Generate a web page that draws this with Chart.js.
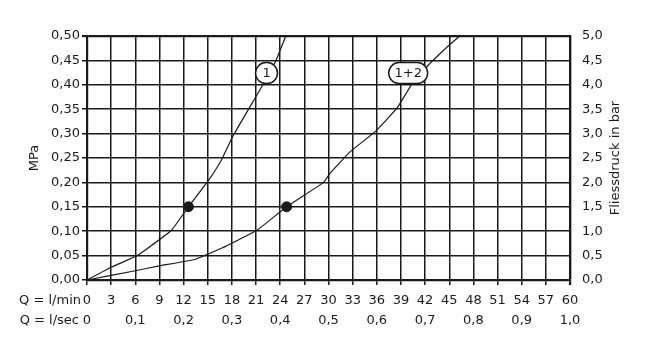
<!DOCTYPE html>
<html>
<head>
<meta charset="utf-8">
<script src="https://cdn.jsdelivr.net/npm/chart.js@4"></script>
<style>
  body { margin: 0; background: #fff; }
  canvas { display: block; }
</style>
</head>
<body>
<canvas id="chart" width="658" height="348"></canvas>
<script>
// curve 1 (l/min -> MPa)
const flowCurve1 = [0, 3.0, 6.0, 7.2, 10.5, 12.6, 15.0, 16.7, 18.1, 20.0, 21.7, 23.4, 24.7];
const pressureCurve1 = [0, 0.026, 0.048, 0.061, 0.102, 0.15, 0.202, 0.246, 0.294, 0.348, 0.396, 0.447, 0.50];

// curve 1+2
const flowCurve12 = [0, 6.0, 9.0, 13.4, 16.7, 21.1, 24.8, 29.4, 30.2, 32.7, 35.8, 38.5, 40.3, 42.2, 44.9, 46.3];
const pressureCurve12 = [0, 0.019, 0.029, 0.042, 0.065, 0.102, 0.15, 0.20, 0.219, 0.263, 0.304, 0.352, 0.40, 0.437, 0.48, 0.50];

// marked points
const markFlow = [12.6, 24.8];
const markPressure = [0.15, 0.15];

// curve labels
const curveLabels = ['1', '1+2'];
const curveLabelFlow = [22.3, 39.9];
const curveLabelPressure = [0.424, 0.424];

const ink = '#1a1a1a';
const fontFamily = '"DejaVu Sans", sans-serif';

function toPoints(xs, ys) {
    const pts = [];
    for (let i = 0; i < xs.length; i++) {
        pts.push({ x: xs[i], y: ys[i] });
    }
    return pts;
}

function comma(v, digits) {
    return v.toFixed(digits).replace('.', ',');
}

const extraText = {
    id: 'extraText',
    afterDatasetsDraw(chart) {
        const ctx = chart.ctx;
        const x = chart.scales.x;
        const y = chart.scales.y;
        ctx.save();
        ctx.strokeStyle = ink;
        ctx.lineWidth = 1.5;
        ctx.font = '13px ' + fontFamily;
        ctx.textAlign = 'center';
        ctx.textBaseline = 'middle';
        for (let i = 0; i < curveLabels.length; i++) {
            const px = x.getPixelForValue(curveLabelFlow[i]);
            const py = y.getPixelForValue(curveLabelPressure[i]);
            const w = curveLabels[i].length > 1 ? 39 : 22;
            const h = 21;
            ctx.beginPath();
            ctx.roundRect(px - w / 2, py - h / 2, w, h, h / 2);
            ctx.fillStyle = '#fff';
            ctx.fill();
            ctx.stroke();
            ctx.fillStyle = ink;
            ctx.fillText(curveLabels[i], px, py + 1);
        }
        ctx.restore();
    },
    afterDraw(chart) {
        const ctx = chart.ctx;
        const area = chart.chartArea;
        ctx.save();
        ctx.fillStyle = ink;
        ctx.font = '13px ' + fontFamily;
        ctx.textAlign = 'right';
        ctx.textBaseline = 'middle';
        ctx.fillText('Q = l/min', 81, chart.scales.x.top + 21);
        ctx.fillText('Q = l/sec', 79, chart.scales.x2.top + 10);
        // right title, reading bottom to top
        ctx.translate(616, (area.top + area.bottom) / 2);
        ctx.rotate(-Math.PI / 2);
        ctx.textAlign = 'center';
        ctx.fillText('Fliessdruck in bar', 0, 0);
        ctx.restore();
    }
};

new Chart(document.getElementById('chart'), {
    type: 'scatter',
    data: {
        datasets: [{
            type: 'line',
            data: toPoints(flowCurve1, pressureCurve1),
            borderColor: ink,
            borderWidth: 1.2,
            pointRadius: 0,
            tension: 0.1,
            fill: false
        }, {
            type: 'line',
            data: toPoints(flowCurve12, pressureCurve12),
            borderColor: ink,
            borderWidth: 1.2,
            pointRadius: 0,
            tension: 0.1,
            fill: false
        }, {
            data: toPoints(markFlow, markPressure),
            backgroundColor: ink,
            borderColor: ink,
            pointRadius: 5
        }]
    },
    options: {
        responsive: false,
        animation: false,
        layout: { padding: { top: 36, bottom: 12, left: 0, right: 0 } },
        plugins: {
            legend: { display: false },
            tooltip: { enabled: false }
        },
        scales: {
            x: {
                type: 'linear',
                position: 'bottom',
                min: 0,
                max: 60,
                afterFit: s => { s.height = 31; },
                ticks: {
                    stepSize: 3,
                    autoSkip: false,
                    maxRotation: 0,
                    padding: 8,
                    color: ink,
                    font: { family: fontFamily, size: 13 }
                },
                grid: {
                    color: ink,
                    lineWidth: c => (c.tick && c.tick.value === 60 ? 2.2 : 1.5),
                    tickLength: 5
                },
                border: { color: ink, width: 2.2 }
            },
            x2: {
                type: 'linear',
                position: 'bottom',
                min: 0,
                max: 1,
                afterFit: s => { s.height = 25; },
                ticks: {
                    stepSize: 0.1,
                    autoSkip: false,
                    maxRotation: 0,
                    padding: 2,
                    color: ink,
                    font: { family: fontFamily, size: 13 },
                    callback: v => (v === 0 ? '0' : comma(v, 1))
                },
                grid: { display: false, drawTicks: false },
                border: { display: false }
            },
            y: {
                type: 'linear',
                position: 'left',
                min: 0,
                max: 0.5,
                afterFit: s => { s.width = 87; },
                title: {
                    display: true,
                    text: 'MPa',
                    color: ink,
                    font: { family: fontFamily, size: 13 },
                    padding: { top: 27, bottom: 0 }
                },
                ticks: {
                    stepSize: 0.05,
                    padding: 2,
                    color: ink,
                    font: { family: fontFamily, size: 13 },
                    callback: v => comma(v, 2)
                },
                grid: {
                    color: ink,
                    lineWidth: c => (c.tick && Math.abs(c.tick.value - 0.5) < 1e-6 ? 2.2 : 1.5),
                    tickLength: 5
                },
                border: { color: ink, width: 2.2 }
            },
            y2: {
                type: 'linear',
                position: 'right',
                min: 0,
                max: 5,
                afterFit: s => { s.width = 88; },
                ticks: {
                    stepSize: 0.5,
                    padding: 12,
                    color: ink,
                    font: { family: fontFamily, size: 13 },
                    callback: v => comma(v, 1)
                },
                grid: { drawOnChartArea: false, drawTicks: false },
                border: { color: ink, width: 2.2 }
            }
        }
    },
    plugins: [extraText]
});
</script>
</body>
</html>
